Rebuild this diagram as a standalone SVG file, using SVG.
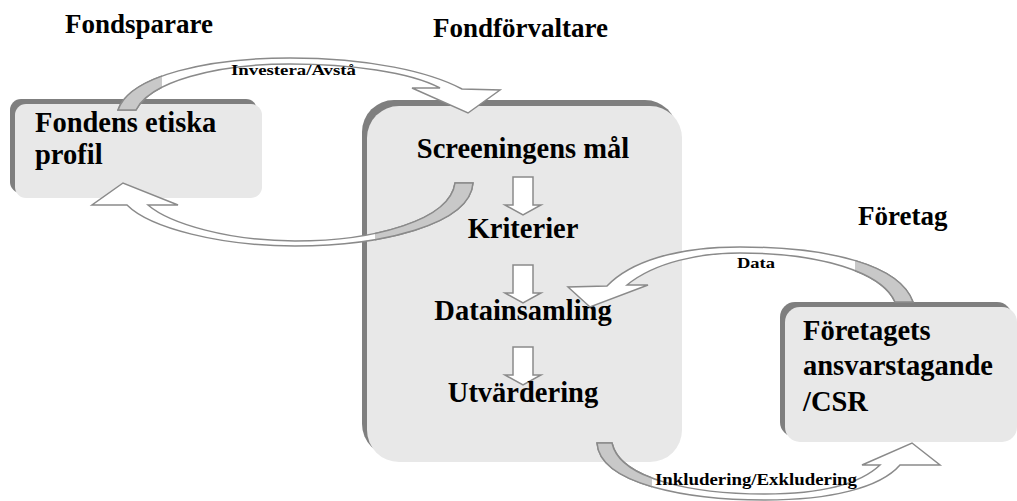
<svg xmlns="http://www.w3.org/2000/svg" width="1017" height="501" viewBox="0 0 1017 501">
<style>
.hdr{font-family:"Liberation Serif","Times New Roman",serif;font-weight:bold;font-size:27px;fill:#000}
.node{font-family:"Liberation Serif","Times New Roman",serif;font-weight:bold;font-size:28.5px;fill:#000}
.lbl{font-family:"Liberation Serif","Times New Roman",serif;font-weight:bold;fill:#000}
.shadow{fill:#7f7f7f}
.box{fill:#e8e8e8}
.band{fill:#ffffff;stroke:#8a8a8a;stroke-width:1.5;stroke-linejoin:miter}
.back{fill:#c8c8c8;stroke:#8a8a8a;stroke-width:1.5}
.down{fill:#ffffff;stroke:#8a8a8a;stroke-width:1.5}
</style>
<defs>
<path id="a1" d="M118,110 C130,75 210,58 290,58 C370,58 430,72 462,89 L500,90 L468,113 L412,88 L440,88 C410,72 350,64 290,64 C215,64 150,82 136,110 Z"/>
<path id="a2" d="M473,183 C470,225 380,246 295,246 C220,246 150,228 127,205 L92,205 L123,183 L178,205 L148,205 C170,224 230,241 295,241 C375,241 450,220 455,183 Z"/>
<path id="a3" d="M913,302 C900,265 830,247 740,247 C675,247 630,262 607,286 L568,287 L590,307 L648,285 L627,285 C655,262 700,253 740,253 C820,253 882,272 895,302 Z"/>
<path id="a4" d="M597,443 C600,485 690,500 765,500 C830,500 880,488 900,465 L940,465 L912,443 L862,465 L880,465 C860,484 820,494 765,494 C695,494 620,480 612,443 Z"/>
<clipPath id="c1"><rect x="100" y="60" width="62" height="60"/></clipPath>
<clipPath id="c2"><rect x="375" y="170" width="110" height="90"/></clipPath>
<clipPath id="c3"><rect x="855" y="240" width="70" height="70"/></clipPath>
<clipPath id="c4"><rect x="585" y="435" width="67" height="66"/></clipPath>
</defs>

<text class="hdr" x="65" y="33">Fondsparare</text>
<text class="hdr" x="433" y="37">Fondförvaltare</text>
<text class="hdr" x="858" y="225">Företag</text>

<g id="node-profil">
<rect class="shadow" x="10" y="99" width="247" height="94" rx="11"/>
<rect class="box" x="15" y="104" width="247" height="94" rx="11"/>
<text class="node" x="35" y="132">Fondens etiska</text>
<text class="node" x="35" y="164">profil</text>
</g>

<g id="node-screening">
<rect class="shadow" x="362" y="100" width="315" height="356" rx="32"/>
<rect class="box" x="367" y="106" width="315" height="356" rx="32"/>
<text class="node" x="523" y="158" text-anchor="middle">Screeningens mål</text>
<path class="down" d="M513,177 H533 V205 H541 L523,215 L505,205 H513 Z"/>
<text class="node" x="523" y="238" text-anchor="middle">Kriterier</text>
<path class="down" d="M513,265 H533 V293 H541 L523,303 L505,293 H513 Z"/>
<text class="node" x="523" y="320" text-anchor="middle">Datainsamling</text>
<path class="down" d="M513,347 H533 V375 H541 L523,385 L505,375 H513 Z"/>
<text class="node" x="523" y="402" text-anchor="middle">Utvärdering</text>
</g>

<g id="node-foretag">
<rect class="shadow" x="780" y="302" width="232" height="135" rx="15"/>
<rect class="box" x="785" y="307" width="232" height="135" rx="15"/>
<text class="node" x="803" y="340">Företagets</text>
<text class="node" x="803" y="375">ansvarstagande</text>
<text class="node" x="803" y="411">/CSR</text>
</g>

<g id="connectors">
<use href="#a1" class="band"/>
<use href="#a1" class="back" clip-path="url(#c1)"/>
<use href="#a2" class="band"/>
<use href="#a2" class="back" clip-path="url(#c2)"/>
<use href="#a3" class="band"/>
<use href="#a3" class="back" clip-path="url(#c3)"/>
<use href="#a4" class="band"/>
<use href="#a4" class="back" clip-path="url(#c4)"/>
<text class="lbl" x="231" y="75" font-size="15" textLength="125" lengthAdjust="spacingAndGlyphs">Investera/Avstå</text>
<text class="lbl" x="737" y="268" font-size="15" textLength="38" lengthAdjust="spacingAndGlyphs">Data</text>
<text class="lbl" x="655" y="485" font-size="17" textLength="202" lengthAdjust="spacingAndGlyphs">Inkludering/Exkludering</text>
</g>
</svg>
